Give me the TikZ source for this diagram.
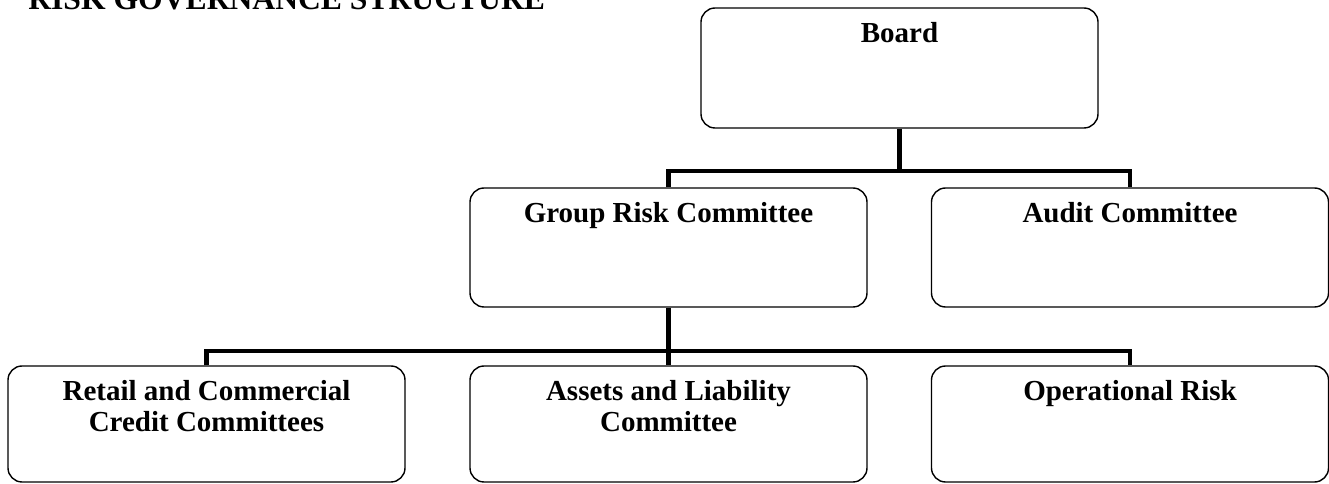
\documentclass[tikz,border=0pt]{standalone}
\usepackage{fontspec}
\setmainfont{Liberation Serif}
\usetikzlibrary{positioning}

\tikzset{
  unit/.style={draw, rounded corners=8pt, line width=0.8pt, minimum width=7.94cm, inner sep=0pt},
  unitname/.style={font=\fontsize{16.5}{17.6}\selectfont\bfseries, align=center, inner sep=0pt},
  link/.style={line width=2.6pt},
}

\begin{document}
\begin{tikzpicture}
\useasboundingbox (0,0) rectangle (26.58,-9.68);

\node[font=\fontsize{18}{20}\selectfont\bfseries, anchor=base west, inner sep=0pt] (title) at (0.56,-0.2) {RISK GOVERNANCE STRUCTURE};

\node[unit, minimum height=2.4cm] (board) at (17.99,-1.36) {};
\node[unit, minimum height=2.38cm] (group) at (13.37,-4.95) {};
\node[unit, minimum height=2.38cm] (audit) at (22.6,-4.95) {};
\node[unit, minimum height=2.32cm] (retail) at (4.13,-8.48) {};
\node[unit, minimum height=2.32cm] (assets) at (13.37,-8.48) {};
\node[unit, minimum height=2.32cm] (oprisk) at (22.6,-8.48) {};

\node[unitname, below=0.3cm of board.north] (boardname) {Board};
\node[unitname, below=0.3cm of group.north] (groupname) {Group Risk Committee};
\node[unitname, below=0.3cm of audit.north] (auditname) {Audit Committee};
\node[unitname, below=0.3cm of retail.north] (retailname) {Retail and Commercial\\Credit Committees};
\node[unitname, below=0.3cm of assets.north] (assetsname) {Assets and Liability\\Committee};
\node[unitname, below=0.3cm of oprisk.north] (opriskname) {Operational Risk};

\coordinate (split1) at (17.99,-3.42);
\coordinate (split2) at (13.37,-7.02);

\draw[link] (board.south) -- (split1);
\draw[link] (group.north) |- (split1) -| (audit.north);
\draw[link] (group.south) -- (split2) -- (assets.north);
\draw[link] (retail.north) |- (split2) -| (oprisk.north);
\end{tikzpicture}
\end{document}
